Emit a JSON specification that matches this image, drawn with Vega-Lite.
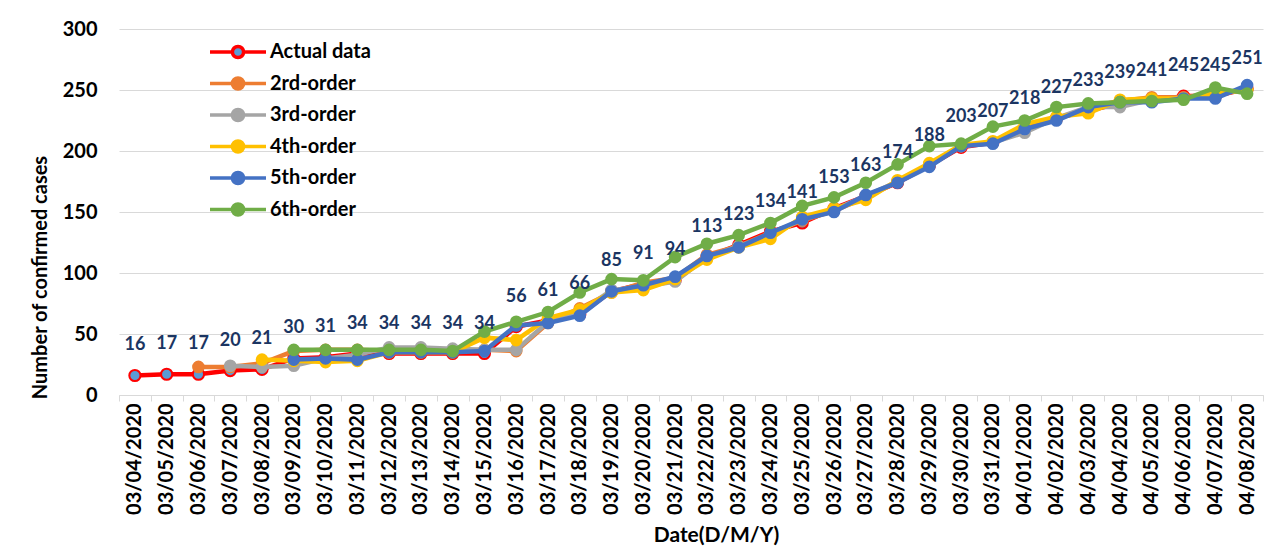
{
  "$schema": "https://vega.github.io/schema/vega-lite/v6.json",
  "width": 1144,
  "height": 366,
  "autosize": {"type": "none"},
  "padding": {"left": 119, "top": 29, "right": 3, "bottom": 157},
  "background": "white",
  "config": {"view": {"stroke": null}, "font": "Lato"},
  "data": {"values": [
    {"date": "03/04/2020", "actual": 16},
    {"date": "03/05/2020", "actual": 17},
    {"date": "03/06/2020", "actual": 17, "o2": 23},
    {"date": "03/07/2020", "actual": 20, "o2": 23, "o3": 24},
    {"date": "03/08/2020", "actual": 21, "o2": 26, "o3": 23, "o4": 29},
    {"date": "03/09/2020", "actual": 30, "o2": 36, "o3": 24, "o4": 28, "o5": 29, "o6": 37},
    {"date": "03/10/2020", "actual": 31, "o2": 37, "o3": 30, "o4": 27, "o5": 30, "o6": 37},
    {"date": "03/11/2020", "actual": 34, "o2": 37, "o3": 33, "o4": 28, "o5": 29, "o6": 37},
    {"date": "03/12/2020", "actual": 34, "o2": 36, "o3": 39, "o4": 35, "o5": 35, "o6": 37},
    {"date": "03/13/2020", "actual": 34, "o2": 36, "o3": 39, "o4": 35, "o5": 35, "o6": 37},
    {"date": "03/14/2020", "actual": 34, "o2": 36, "o3": 38, "o4": 35, "o5": 35, "o6": 36},
    {"date": "03/15/2020", "actual": 34, "o2": 37, "o3": 37, "o4": 47, "o5": 36, "o6": 52},
    {"date": "03/16/2020", "actual": 56, "o2": 36, "o3": 37, "o4": 45, "o5": 57, "o6": 60},
    {"date": "03/17/2020", "actual": 61, "o2": 59, "o3": 60, "o4": 63, "o5": 59, "o6": 68},
    {"date": "03/18/2020", "actual": 66, "o2": 71, "o3": 68, "o4": 70, "o5": 65, "o6": 84},
    {"date": "03/19/2020", "actual": 85, "o2": 84, "o3": 86, "o4": 84, "o5": 85, "o6": 95},
    {"date": "03/20/2020", "actual": 91, "o2": 92, "o3": 89, "o4": 86, "o5": 90, "o6": 94},
    {"date": "03/21/2020", "actual": 94, "o2": 96, "o3": 93, "o4": 95, "o5": 97, "o6": 113},
    {"date": "03/22/2020", "actual": 113, "o2": 115, "o3": 113, "o4": 111, "o5": 114, "o6": 124},
    {"date": "03/23/2020", "actual": 123, "o2": 122, "o3": 122, "o4": 121, "o5": 121, "o6": 131},
    {"date": "03/24/2020", "actual": 134, "o2": 133, "o3": 131, "o4": 128, "o5": 133, "o6": 141},
    {"date": "03/25/2020", "actual": 141, "o2": 143, "o3": 144, "o4": 146, "o5": 144, "o6": 155},
    {"date": "03/26/2020", "actual": 153, "o2": 151, "o3": 152, "o4": 153, "o5": 150, "o6": 162},
    {"date": "03/27/2020", "actual": 163, "o2": 162, "o3": 163, "o4": 160, "o5": 164, "o6": 174},
    {"date": "03/28/2020", "actual": 174, "o2": 175, "o3": 175, "o4": 176, "o5": 174, "o6": 189},
    {"date": "03/29/2020", "actual": 188, "o2": 189, "o3": 189, "o4": 190, "o5": 187, "o6": 204},
    {"date": "03/30/2020", "actual": 203, "o2": 204, "o3": 204, "o4": 205, "o5": 204, "o6": 206},
    {"date": "03/31/2020", "actual": 207, "o2": 207, "o3": 207, "o4": 208, "o5": 206, "o6": 220},
    {"date": "04/01/2020", "actual": 218, "o2": 219, "o3": 215, "o4": 222, "o5": 218, "o6": 225},
    {"date": "04/02/2020", "actual": 227, "o2": 226, "o3": 227, "o4": 228, "o5": 225, "o6": 236},
    {"date": "04/03/2020", "actual": 233, "o2": 236, "o3": 236, "o4": 231, "o5": 236, "o6": 239},
    {"date": "04/04/2020", "actual": 239, "o2": 241, "o3": 236, "o4": 242, "o5": 240, "o6": 240},
    {"date": "04/05/2020", "actual": 241, "o2": 244, "o3": 242, "o4": 243, "o5": 240, "o6": 241},
    {"date": "04/06/2020", "actual": 245, "o2": 244, "o3": 243, "o4": 243, "o5": 243, "o6": 242},
    {"date": "04/07/2020", "actual": 245, "o2": 247, "o3": 247, "o4": 247, "o5": 243, "o6": 252},
    {"date": "04/08/2020", "actual": 251, "o2": 250, "o3": 250, "o4": 250, "o5": 254, "o6": 247}
  ]},
  "transform": [
    {"fold": ["actual", "o2", "o3", "o4", "o5", "o6"], "as": ["key", "value"]},
    {"filter": "isValid(datum.value)"}
  ],
  "encoding": {
    "x": {
      "field": "date", "type": "ordinal", "sort": null,
      "scale": {"paddingInner": 0, "paddingOuter": 0},
      "axis": {
        "title": "Date(D/M/Y)", "titleFont": "Lato", "titleFontSize": 21, "titleFontWeight": "bold", "titleColor": "black",
        "titleX": 597, "titleY": 140, "titleAlign": "center", "titleBaseline": "middle",
        "labelAngle": -90, "labelFont": "Lato", "labelFontSize": 20, "labelFontWeight": "bold", "labelColor": "black",
        "labelPadding": 2,
        "tickBand": "extent", "tickSize": 6, "tickColor": "#d9d9d9", "domainColor": "#d9d9d9", "grid": false
      }
    },
    "y": {
      "field": "value", "type": "quantitative",
      "scale": {"domain": [0, 300], "nice": false},
      "axis": {
        "values": [0, 50, 100, 150, 200, 250, 300],
        "title": "Number of confirmed cases", "titleFont": "Lato", "titleFontSize": 20, "titleFontWeight": "bold", "titleColor": "black",
        "titleX": -79, "titleY": 248, "titleAngle": -90, "titleAlign": "center", "titleBaseline": "middle",
        "labelFont": "Lato", "labelFontSize": 20, "labelFontWeight": "bold", "labelColor": "black", "labelPadding": 22,
        "domain": false, "ticks": false, "grid": true, "gridColor": "#d9d9d9"
      }
    }
  },
  "layer": [
    {
      "transform": [{"filter": "datum.key === 'actual'"}],
      "mark": {"type": "line", "strokeWidth": 4.5},
      "encoding": {
        "stroke": {
          "field": "key", "type": "nominal",
          "scale": {"domain": ["actual", "o2", "o3", "o4", "o5", "o6"], "range": ["#ff0000", "#ed7d31", "#a5a5a5", "#ffc000", "#4472c4", "#70ad47"]},
          "legend": {
            "orient": "none", "legendX": 109, "legendY": 13, "title": null,
            "symbolType": "M-4,0L-0.8,0M0.8,0L4,0M-0.8,0A0.8,0.8,0,1,0,0.8,0A0.8,0.8,0,1,0,-0.8,0Z",
            "symbolSize": 196, "symbolStrokeWidth": 3.5, "symbolOpacity": 1,
            "labelFont": "Lato", "labelFontSize": 20, "labelFontWeight": "bold", "labelColor": "black",
            "labelOffset": 22, "rowPadding": 5.5,
            "labelExpr": "{'actual':'Actual data','o2':'2rd-order','o3':'3rd-order','o4':'4th-order','o5':'5th-order','o6':'6th-order'}[datum.value]"
          }
        }
      }
    },
    {
      "transform": [{"filter": "datum.key === 'actual'"}],
      "mark": {"type": "point", "shape": "circle", "filled": true, "stroke": "#ff0000", "strokeWidth": 2, "size": 125, "opacity": 1},
      "encoding": {
        "fill": {
          "field": "key", "type": "nominal",
          "scale": {"domain": ["actual", "o2", "o3", "o4", "o5", "o6"], "range": ["#5b9bd5", "#ed7d31", "#a5a5a5", "#ffc000", "#4472c4", "#70ad47"]},
          "legend": {
            "orient": "none", "legendX": 109, "legendY": 13, "title": null,
            "symbolType": "M-4,0L-0.8,0M0.8,0L4,0M-0.8,0A0.8,0.8,0,1,0,0.8,0A0.8,0.8,0,1,0,-0.8,0Z",
            "symbolSize": 196, "symbolStrokeWidth": 3.5, "symbolOpacity": 1,
            "labelFont": "Lato", "labelFontSize": 20, "labelFontWeight": "bold", "labelColor": "black",
            "labelOffset": 22, "rowPadding": 5.5,
            "labelExpr": "{'actual':'Actual data','o2':'2rd-order','o3':'3rd-order','o4':'4th-order','o5':'5th-order','o6':'6th-order'}[datum.value]"
          }
        }
      }
    },
    {
      "transform": [{"filter": "datum.key === 'o2'"}],
      "mark": {"type": "line", "strokeWidth": 4.5},
      "encoding": {"stroke": {"field": "key", "type": "nominal"}}
    },
    {
      "transform": [{"filter": "datum.key === 'o2'"}],
      "mark": {"type": "point", "shape": "circle", "filled": true, "size": 160, "opacity": 1},
      "encoding": {"fill": {"field": "key", "type": "nominal"}}
    },
    {
      "transform": [{"filter": "datum.key === 'o3'"}],
      "mark": {"type": "line", "strokeWidth": 4.5},
      "encoding": {"stroke": {"field": "key", "type": "nominal"}}
    },
    {
      "transform": [{"filter": "datum.key === 'o3'"}],
      "mark": {"type": "point", "shape": "circle", "filled": true, "size": 160, "opacity": 1},
      "encoding": {"fill": {"field": "key", "type": "nominal"}}
    },
    {
      "transform": [{"filter": "datum.key === 'o4'"}],
      "mark": {"type": "line", "strokeWidth": 4.5},
      "encoding": {"stroke": {"field": "key", "type": "nominal"}}
    },
    {
      "transform": [{"filter": "datum.key === 'o4'"}],
      "mark": {"type": "point", "shape": "circle", "filled": true, "size": 160, "opacity": 1},
      "encoding": {"fill": {"field": "key", "type": "nominal"}}
    },
    {
      "transform": [{"filter": "datum.key === 'o5'"}],
      "mark": {"type": "line", "strokeWidth": 4.5},
      "encoding": {"stroke": {"field": "key", "type": "nominal"}}
    },
    {
      "transform": [{"filter": "datum.key === 'o5'"}],
      "mark": {"type": "point", "shape": "circle", "filled": true, "size": 160, "opacity": 1},
      "encoding": {"fill": {"field": "key", "type": "nominal"}}
    },
    {
      "transform": [{"filter": "datum.key === 'o6'"}],
      "mark": {"type": "line", "strokeWidth": 4.5},
      "encoding": {"stroke": {"field": "key", "type": "nominal"}}
    },
    {
      "transform": [{"filter": "datum.key === 'o6'"}],
      "mark": {"type": "point", "shape": "circle", "filled": true, "size": 160, "opacity": 1},
      "encoding": {"fill": {"field": "key", "type": "nominal"}}
    },
    {
      "transform": [{"filter": "datum.key === 'actual'"}],
      "mark": {"type": "text", "dy": -30, "font": "Lato", "fontSize": 18, "fontWeight": "bold", "color": "#1b3562", "baseline": "middle"},
      "encoding": {"text": {"field": "value", "type": "quantitative"}}
    }
  ]
}
